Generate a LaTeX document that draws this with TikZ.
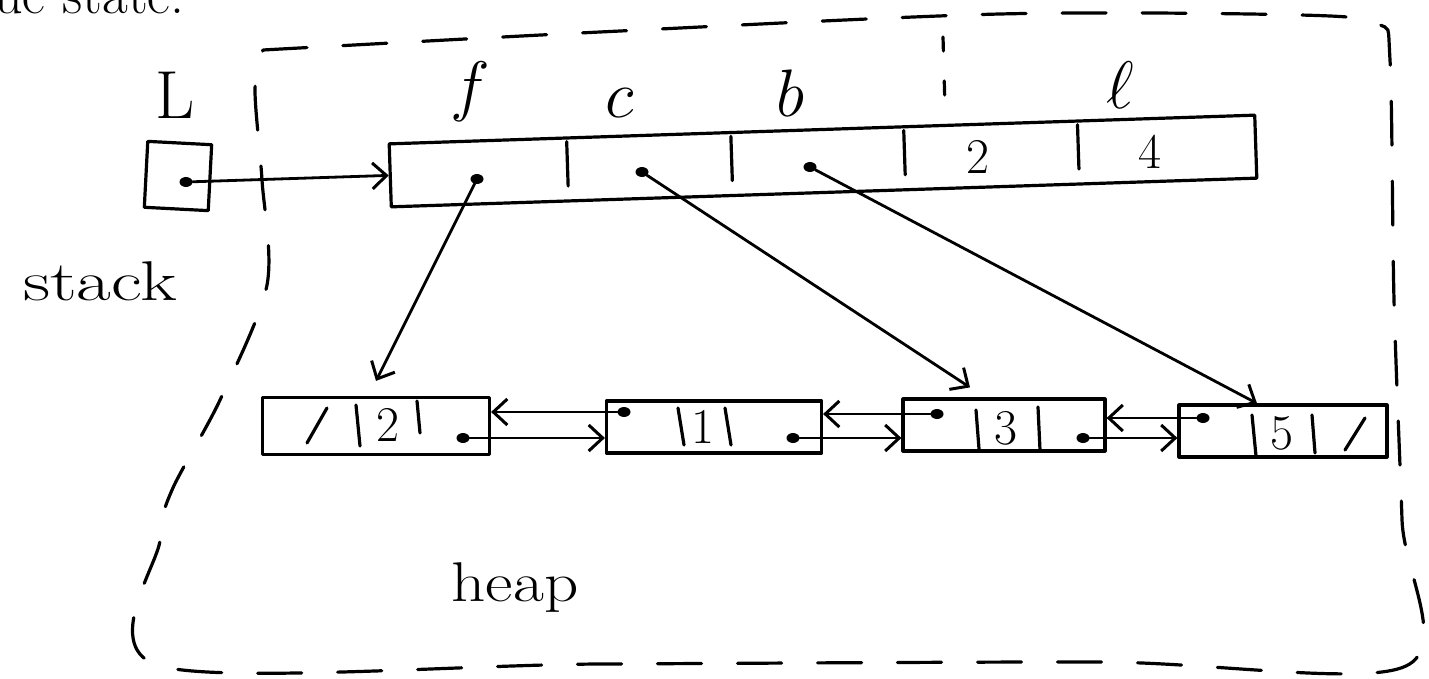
\documentclass[tikz,border=0pt]{standalone}
\usetikzlibrary{arrows.meta,calc,shapes.geometric}
\begin{document}
\begin{tikzpicture}[x=1pt,y=-1pt,
  hand/.style={line width=3.2pt, line cap=round, line join=round},
  cellbox/.style={hand, draw, rectangle, inner sep=0pt},
  ptr/.style={line width=2.8pt, line cap=round, -{Straight Barb[length=14pt,width=26pt,line width=3pt]}},
  dot/.style={ellipse, fill, inner sep=0pt, minimum width=13pt, minimum height=10pt},
  bound/.style={line width=3.2pt, line cap=round, dash pattern=on 44pt off 36pt},
  lab/.style={inner sep=0pt, font=\fontsize{68}{68}\selectfont},
  mlab/.style={inner sep=0pt, font=\Huge, scale=2.7},
  num/.style={inner sep=0pt, font=\fontsize{50}{50}\selectfont},
  word/.style={inner sep=0pt, font=\fontsize{56}{56}\selectfont},
]
\useasboundingbox (0,0) rectangle (1429,679);
\clip (0,0) rectangle (1429,679);

% clipped caption at top
\node[word, anchor=base west] (cap) at (-6,14) {ue state.};

% stack side
\node[lab] (Llab) at (175,95) {L};
\node[cellbox, minimum width=64pt, minimum height=66pt, rotate=-3] (Lbox) at (178,176) {};
\node[dot] (Ld) at (186,182) {};
\node[word, xscale=1.35] (stk) at (100,281) {stack};

% heap boundary
\draw[bound] plot[smooth, tension=0.5] coordinates {
  (263,50) (600,32) (1000,14) (1300,15) (1378,24) (1390,60)
  (1394,300) (1402,520) (1406,666) (1100,662) (600,664) (160,666)
  (160,540) (172,490) (220,400) (267,285) (262,180) (255,90) (263,50)};
\draw[bound, dash pattern=on 14pt off 30pt] (943,37) -- (945,107);

% array
\node[cellbox, minimum width=866pt, minimum height=63pt, rotate=1.9] (arr) at (823,161) {};
\foreach \f [count=\i] in {0.206,0.395,0.594,0.794} {
  \coordinate (t\i) at ($(arr.north west)!\f!(arr.north east)$);
  \coordinate (b\i) at ($(arr.south west)!\f!(arr.south east)$);
  \draw[hand] ($(t\i)!0.08!(b\i)$) -- ($(t\i)!0.75!(b\i)$);
}
\node[dot] (a1) at (477,179) {};
\node[dot] (a2) at (642,172) {};
\node[dot] (a3) at (810,167) {};
\node[num] (v2) at (978,157) {2};
\node[num] (v4) at (1150,152) {4};

% field labels
\node[mlab] (lf) at (470,92) {$f$};
\node[mlab] (lc) at (620,103) {$c$};
\node[mlab] (lb) at (790,93) {$b$};
\node[mlab] (ll) at (1120,85) {$\ell$};

% heap nodes
\node[cellbox, minimum width=227pt, minimum height=57pt] (n1) at (376,426) {};
\node[cellbox, minimum width=215pt, minimum height=52pt] (n2) at (714,427) {};
\node[cellbox, minimum width=202pt, minimum height=52pt] (n3) at (1004,425) {};
\node[cellbox, minimum width=208pt, minimum height=52pt] (n4) at (1283,431) {};

% node 1 contents
\draw[hand] (307,443) -- (327,408);
\draw[hand] (356,405) -- (360,446);
\node[num] (k1) at (388,425) {2};
\draw[hand] (417,401) -- (420,433);
\node[dot] (d1r) at (463,438) {};
% node 2 contents
\node[dot] (d2l) at (624,412) {};
\draw[hand] (678,408) -- (684,445);
\node[num] (k2) at (703,427) {1};
\draw[hand] (725,408) -- (731,445);
\node[dot] (d2r) at (793,438) {};
% node 3 contents
\node[dot] (d3l) at (937,414) {};
\draw[hand] (976,410) -- (979,449);
\node[num] (k3) at (1006,428) {3};
\draw[hand] (1038,407) -- (1040,450);
\node[dot] (d3r) at (1083,438) {};
% node 4 contents
\node[dot] (d4l) at (1203,418) {};
\draw[hand] (1252,415) -- (1256,456);
\node[num] (k4) at (1282,433) {5};
\draw[hand] (1312,415) -- (1315,453);
\draw[hand] (1345,450) -- (1365,418);

% links
\draw[ptr] (Ld) -- (arr.west);
\draw[ptr] (a1) -- ([yshift=15pt]n1.north);
\draw[ptr] (a2) -- ([xshift=-34pt,yshift=10pt]n3.north);
\draw[ptr] (a3) -- ([xshift=-26pt]n4.north);

\draw[ptr] (d1r) -- (d1r -| n2.west);
\draw[ptr] (d2l) -- (d2l -| n1.east);
\draw[ptr] (d2r) -- (d2r -| n3.west);
\draw[ptr] (d3l) -- (d3l -| n2.east);
\draw[ptr] (d3r) -- (d3r -| n4.west);
\draw[ptr] (d4l) -- (d4l -| n3.east);

% heap label
\node[word, xscale=1.2] (hp) at (515,588) {heap};
\end{tikzpicture}
\end{document}
